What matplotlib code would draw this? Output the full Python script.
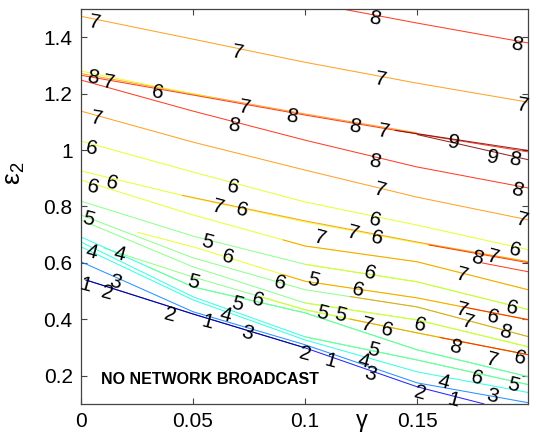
import matplotlib
matplotlib.use("Agg")
import matplotlib.pyplot as plt
from matplotlib import colors

plt.rcParams['font.family'] = ['Liberation Sans', 'DejaVu Sans']
plt.rcParams['mathtext.fontset'] = 'custom'
plt.rcParams['mathtext.rm'] = 'Liberation Sans'
plt.rcParams['mathtext.it'] = 'Liberation Sans'

# ---------------- data ----------------
levels = [1, 2, 3, 4, 5, 6, 7, 8, 9]
g5 = [0.0, 0.05, 0.10, 0.15, 0.20]

# contour polylines: (level, gamma values, epsilon_2 values)
contours = [
    (8, [0.1165, 0.15, 0.20], [1.500, 1.450, 1.379]),
    (7, g5, [1.474, 1.393, 1.311, 1.237, 1.169]),
    (7, [0.0, 0.05, 0.10, 0.15], [1.271, 1.199, 1.128, 1.061]),
    (6, [0.0, 0.03, 0.06], [1.280, 1.231, 1.183]),
    (8, g5, [1.265, 1.195, 1.124, 1.057, 0.993]),
    (9, [0.14, 0.20], [1.070, 0.998]),
    (9, [0.15, 0.20], [1.055, 0.965]),
    (8, g5, [1.248, 1.138, 1.035, 0.940, 0.865]),
    (7, g5, [1.138, 1.028, 0.929, 0.833, 0.752]),
    (6, g5, [1.032, 0.922, 0.816, 0.734, 0.646]),
    (6, g5, [0.926, 0.830, 0.745, 0.671, 0.604]),
    (7, [0.045, 0.10, 0.15, 0.20], [0.840, 0.749, 0.674, 0.604]),
    (8, [0.155, 0.20], [0.664, 0.600]),
    (8, [0.179, 0.20], [0.600, 0.568]),
    (6, g5, [0.894, 0.770, 0.660, 0.604, 0.504]),
    (7, [0.09, 0.10, 0.15, 0.20], [0.682, 0.660, 0.604, 0.504]),
    (5, g5, [0.819, 0.695, 0.595, 0.533, 0.434]),
    (6, [0.10, 0.15, 0.20], [0.595, 0.533, 0.434]),
    (6, [0.025, 0.05, 0.10, 0.15, 0.20], [0.709, 0.657, 0.535, 0.476, 0.398]),
    (7, [0.09, 0.10, 0.15, 0.20], [0.559, 0.535, 0.476, 0.398]),
    (8, [0.17, 0.20], [0.445, 0.398]),
    (5, g5, [0.770, 0.618, 0.505, 0.444, 0.338]),
    (7, [0.12, 0.15, 0.20], [0.481, 0.444, 0.338]),
    (5, g5, [0.752, 0.586, 0.458, 0.398, 0.302]),
    (6, [0.10, 0.15, 0.20], [0.458, 0.398, 0.302]),
    (5, [0.01, 0.05, 0.10, 0.15, 0.20], [0.653, 0.550, 0.434, 0.352, 0.274]),
    (6, [0.08, 0.10, 0.15, 0.20], [0.480, 0.434, 0.352, 0.274]),
    (7, [0.12, 0.15, 0.20], [0.401, 0.352, 0.274]),
    (8, [0.16, 0.20], [0.336, 0.274]),
    (4, g5, [0.692, 0.515, 0.423, 0.292, 0.196]),
    (5, [0.03, 0.05, 0.10, 0.15, 0.20], [0.586, 0.515, 0.423, 0.292, 0.196]),
    (4, g5, [0.674, 0.480, 0.338, 0.256, 0.168]),
    (5, [0.10, 0.15, 0.20], [0.338, 0.256, 0.168]),
    (4, g5, [0.657, 0.469, 0.327, 0.214, 0.140]),
    (3, g5, [0.604, 0.427, 0.310, 0.175, 0.104]),
    (2, [0.002, 0.05, 0.10, 0.15, 0.18], [0.540, 0.419, 0.299, 0.161, 0.100]),
    (1, [0.002, 0.05, 0.10], [0.540, 0.419, 0.299]),
]

# contour labels: (text, gamma, epsilon_2)
label_text = ["7", "7", "7", "7", "8", "8", "8", "7", "6", "7", "8", "8", "7", "9", "9", "8",
              "8", "8", "8", "7", "7", "6", "6", "6", "6", "7", "6",
              "6", "7", "7", "6", "8", "7", "6", "7", "7", "6", "6", "5", "6",
              "5", "5", "7", "6", "6", "7", "7", "6", "6", "8", "8", "7", "6",
              "5", "4", "3", "2", "1", "4", "6", "5", "2", "1", "3",
              "5", "5", "6", "4", "4", "5", "3", "1", "2", "2", "1", "4", "5", "6", "3"]
label_gamma = [0.006, 0.070, 0.1335, 0.1969, 0.1313, 0.1946, 0.0054, 0.0121, 0.0344, 0.0732,
               0.0942, 0.1223, 0.1348, 0.1661, 0.1839, 0.1938,
               0.0683, 0.1313, 0.1946, 0.0071, 0.1335, 0.0049, 0.0679, 0.0054, 0.0138, 0.0612, 0.0719,
               0.1313, 0.1067, 0.1214, 0.1321, 0.1768, 0.1839, 0.1938, 0.1969, 0.1701, 0.1290,
               0.0888, 0.1036, 0.1237,
               0.1076, 0.1156, 0.1277, 0.1366, 0.1513, 0.1701, 0.1728, 0.1839, 0.1924, 0.1893,
               0.1670, 0.1835, 0.1960,
               0.1304, 0.1259, 0.1290, 0.1000, 0.1112, 0.1616, 0.1768, 0.1929, 0.1513, 0.1661, 0.1835,
               0.0031, 0.0563, 0.0656, 0.0049, 0.0174, 0.0500, 0.0152, 0.0018, 0.0116, 0.0397,
               0.0563, 0.0643, 0.0696, 0.0790, 0.0741]
label_eps = [1.450, 1.347, 1.251, 1.159, 1.467, 1.372, 1.258, 1.240, 1.202, 1.152,
             1.117, 1.082, 1.064, 1.025, 0.975, 0.965,
             1.085, 0.958, 0.858, 1.113, 0.858, 1.004, 0.869, 0.869, 0.883, 0.798, 0.788,
             0.752, 0.689, 0.707, 0.689, 0.618, 0.621, 0.646, 0.752, 0.558, 0.565,
             0.529, 0.540, 0.504,
             0.423, 0.416, 0.381, 0.363, 0.381, 0.434, 0.391, 0.409, 0.441, 0.356,
             0.303, 0.257, 0.264,
             0.292, 0.250, 0.204, 0.275, 0.250, 0.179, 0.193, 0.168, 0.140, 0.115, 0.126,
             0.755, 0.674, 0.621, 0.639, 0.632, 0.533, 0.533, 0.522, 0.494, 0.416,
             0.391, 0.416, 0.455, 0.469, 0.352]

x_ticks = [0, 0.05, 0.1, 0.15]
x_tick_labels = ["0", "0.05", "0.1", "0.15"]
y_ticks = [0.2, 0.4, 0.6, 0.8, 1.0, 1.2, 1.4]
y_tick_labels = ["0.2", "0.4", "0.6", "0.8", "1", "1.2", "1.4"]
annotation = "NO NETWORK BROADCAST"

# ---------------- figure ----------------
fig = plt.figure(figsize=(5.35, 4.37), dpi=100)
ax = fig.add_axes([0.1514, 0.0755, 0.8356, 0.904])

cmap = plt.get_cmap('jet')
norm = colors.Normalize(vmin=min(levels), vmax=max(levels))

for lev, gx, ey in contours:
    ax.plot(gx, ey, color=cmap(norm(lev)), lw=0.75, alpha=0.85, solid_capstyle='butt')

for t, gx, ey in zip(label_text, label_gamma, label_eps):
    rot = -10 if ey > 0.9 else -15
    ax.text(gx, ey, t, fontsize=15, ha='center', va='center', rotation=rot,
            color='black', clip_on=False, zorder=5)

ax.text(0.0576, 0.186, annotation, fontsize=11.5, fontweight='bold',
        ha='center', va='center', color='black')

ax.set_xlim(0, 0.1995)
ax.set_ylim(0.1, 1.5)
ax.set_xticks(x_ticks)
ax.set_xticklabels(x_tick_labels)
ax.set_yticks(y_ticks)
ax.set_yticklabels(y_tick_labels)
ax.tick_params(direction='in', length=4, width=0.8, top=True, right=True,
               labelsize=15, colors='#444444', labelcolor='black', pad=6)
for s in ax.spines.values():
    s.set_color('#444444')
    s.set_linewidth(0.9)

ax.set_xlabel('γ', fontsize=17)
ax.xaxis.set_label_coords(0.629, -0.015)
ax.set_ylabel(r'$\mathregular{\varepsilon_2}$', fontsize=19, labelpad=0)
ax.yaxis.set_label_coords(-0.12, 0.585)

fig.savefig('out.png', dpi=100)
